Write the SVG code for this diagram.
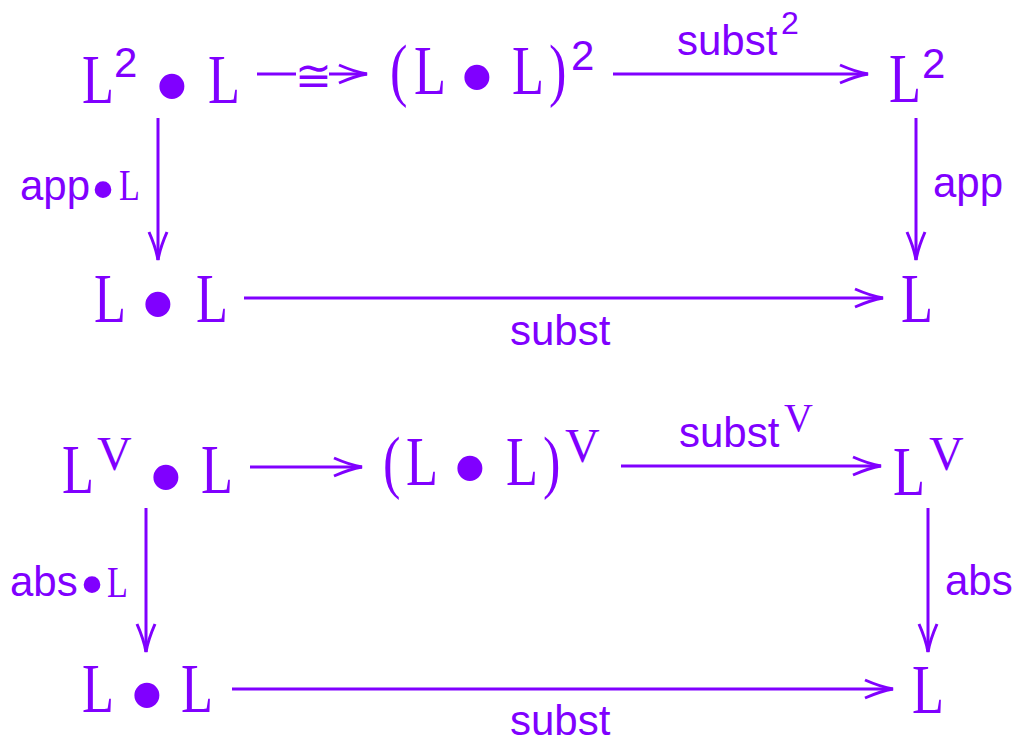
<svg xmlns="http://www.w3.org/2000/svg" width="1024" height="754" viewBox="0 0 1024 754">
  <style>
    text { fill: #8000ff; }
    .m { font-family: "Liberation Serif", serif; font-size: 69px; }
    .ms { font-family: "Liberation Serif", serif; font-size: 45px; }
    .sup { font-family: "Liberation Serif", serif; font-size: 48px; }
    .supS { font-family: "Liberation Serif", serif; font-size: 40px; }
    .lbl { font-family: "Liberation Sans", Arial, sans-serif; font-size: 42px; }
    .num { font-family: "Liberation Sans", Arial, sans-serif; font-size: 42px; }
    .numS { font-family: "Liberation Sans", Arial, sans-serif; font-size: 32px; }
    .dot { font-family: "Liberation Serif", serif; font-size: 105px; text-anchor: middle; }
    .dotS { font-family: "Liberation Serif", serif; font-size: 70px; text-anchor: middle; }
    .iso { font-family: "DejaVu Serif", serif; font-size: 44px; text-anchor: middle; }
    .arr { stroke: #8000ff; stroke-width: 3; fill: none; marker-end: url(#head); }
    .seg { stroke: #8000ff; stroke-width: 3; fill: none; }
  </style>
  <defs>
    <marker id="head" markerUnits="userSpaceOnUse" viewBox="-30 -12 32 24" refX="0" refY="0" markerWidth="32" markerHeight="24" orient="auto" overflow="visible">
      <path d="M-28,-9 Q-12,-2 0,0 Q-12,2 -28,9" fill="none" stroke="#8000ff" stroke-width="3"/>
    </marker>
  </defs>

  <!-- upper square -->
  <g id="n-L2-dot-L">
    <text class="m" transform="translate(82,103) scale(0.76,1)">L</text>
    <text class="num" x="114" y="77">2</text>
    <text class="dot" x="172" y="121">•</text>
    <text class="m" transform="translate(208,103) scale(0.76,1)">L</text>
  </g>
  <g id="n-LdotL-sq">
    <text class="m" transform="translate(390,93) scale(0.76,1)">(</text>
    <text class="m" transform="translate(414,94) scale(0.76,1)">L</text>
    <text class="dot" x="477" y="112">•</text>
    <text class="m" transform="translate(512,94) scale(0.76,1)">L</text>
    <text class="m" transform="translate(549,93) scale(0.76,1)">)</text>
    <text class="num" x="571" y="70">2</text>
  </g>
  <g id="n-L2">
    <text class="m" transform="translate(889,102) scale(0.76,1)">L</text>
    <text class="num" x="922" y="78">2</text>
  </g>
  <g id="n-LdotL-1">
    <text class="m" transform="translate(94,322) scale(0.76,1)">L</text>
    <text class="dot" x="158" y="339">•</text>
    <text class="m" transform="translate(196,322) scale(0.76,1)">L</text>
  </g>
  <g id="n-L-1">
    <text class="m" transform="translate(901,322) scale(0.76,1)">L</text>
  </g>

  <!-- lower square -->
  <g id="n-LV-dot-L">
    <text class="m" transform="translate(62,493) scale(0.76,1)">L</text>
    <text class="sup" x="97" y="470">V</text>
    <text class="dot" x="166" y="512">•</text>
    <text class="m" transform="translate(201,493) scale(0.76,1)">L</text>
  </g>
  <g id="n-LdotL-V">
    <text class="m" transform="translate(383,485) scale(0.76,1)">(</text>
    <text class="m" transform="translate(406,485) scale(0.76,1)">L</text>
    <text class="dot" x="470" y="503">•</text>
    <text class="m" transform="translate(506,485) scale(0.76,1)">L</text>
    <text class="m" transform="translate(543,485) scale(0.76,1)">)</text>
    <text class="sup" x="565" y="462">V</text>
  </g>
  <g id="n-LV">
    <text class="m" transform="translate(893,495) scale(0.76,1)">L</text>
    <text class="sup" x="929" y="470">V</text>
  </g>
  <g id="n-LdotL-2">
    <text class="m" transform="translate(82,712) scale(0.76,1)">L</text>
    <text class="dot" x="147" y="730">•</text>
    <text class="m" transform="translate(181,712) scale(0.76,1)">L</text>
  </g>
  <g id="n-L-2">
    <text class="m" transform="translate(912,713) scale(0.76,1)">L</text>
  </g>

  <g id="connectors">
    <!-- upper square -->
    <line class="seg" x1="257" y1="74" x2="296" y2="74"/>
    <line class="arr" x1="329" y1="74" x2="367" y2="74"/>
    <text class="iso" x="313" y="91">≅</text>
    <line class="arr" x1="613" y1="74" x2="868" y2="74"/>
    <text class="lbl" x="677" y="55">subst</text>
    <text class="numS" x="781" y="34">2</text>
    <line class="arr" x1="158" y1="118" x2="158" y2="260"/>
    <text class="lbl" x="20" y="200">app</text>
    <text class="dotS" x="103" y="213">•</text>
    <text class="ms" transform="translate(119,200) scale(0.76,1)">L</text>
    <line class="arr" x1="916" y1="118" x2="916" y2="260"/>
    <text class="lbl" x="933" y="197">app</text>
    <line class="arr" x1="244" y1="298" x2="883" y2="298"/>
    <text class="lbl" x="510" y="345">subst</text>

    <!-- lower square -->
    <line class="arr" x1="250" y1="467" x2="362" y2="467"/>
    <line class="arr" x1="621" y1="466" x2="881" y2="466"/>
    <text class="lbl" x="679" y="447">subst</text>
    <text class="supS" x="784" y="431">V</text>
    <line class="arr" x1="146" y1="508" x2="146" y2="652"/>
    <text class="lbl" x="10" y="596">abs</text>
    <text class="dotS" x="92" y="608">•</text>
    <text class="ms" transform="translate(107,597) scale(0.76,1)">L</text>
    <line class="arr" x1="928" y1="508" x2="928" y2="652"/>
    <text class="lbl" x="945" y="595">abs</text>
    <line class="arr" x1="232" y1="689" x2="893" y2="689"/>
    <text class="lbl" x="510" y="735">subst</text>
  </g>
</svg>
